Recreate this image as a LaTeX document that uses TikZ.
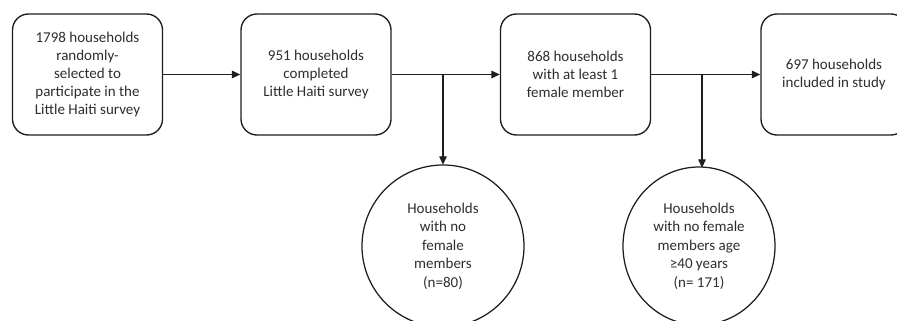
\documentclass[tikz,border=0pt]{standalone}
\usepackage{fontspec}
\setmainfont{Carlito}
\usetikzlibrary{arrows.meta}
\definecolor{linec}{HTML}{1E1E1E}
\definecolor{textc}{HTML}{2E2E2E}
\tikzset{
  x=1pt,y=-1pt,
  box/.style={draw=linec, line width=1.35pt, rounded corners=16pt, minimum width=150pt, minimum height=121pt, align=center, text=textc, font=\fontsize{15}{18}\selectfont, inner sep=0pt},
  conn/.style={draw=linec, line width=1.35pt, -{Triangle[length=8.5pt,width=7.5pt]}},
  circtext/.style={align=center, text=textc, font=\fontsize{15}{18.5}\selectfont, inner sep=0pt}
}
\begin{document}
\begin{tikzpicture}
\useasboundingbox (0,0) rectangle (897,321);
\clip (0,0) rectangle (897,321);
\fill[white] (0,0) rectangle (897,321);
\node[box] (b1) at (87.5,74.5) {1798 households\\randomly-\\selected to\\participate in the\\Little Haiti survey};
\node[box] (b2) at (316,74.5) {951 households\\completed\\Little Haiti survey};
\node[box] (b3) at (575.5,74.5) {868 households\\with at least 1\\female member};
\node[box, minimum width=146pt] (b4) at (834,74.5) {697 households\\included in study};
\draw[line width=1.25pt, draw=linec] (443,246) ellipse (81pt and 81pt);
\node[circtext, minimum size=162pt] (c1) at (443,246) {Households\\with no\\female\\members\\(n=80)};
\draw[line width=1.25pt, draw=linec] (699,246) ellipse (76pt and 79pt);
\node[circtext, minimum width=152pt, minimum height=158pt] (c2) at (699,246) {Households\\with no female\\members age\\≥40 years\\(n= 171)};
\coordinate (j1) at (443,74.5);
\coordinate (j2) at (702,74.5);
\draw[conn] (b1.east) -- (b2.west);
\draw[conn] (b2.east) -- (b3.west);
\draw[conn] (b3.east) -- (b4.west);
\draw[conn] (j1) -- (c1.north);
\draw[conn] (j2) -- ([yshift=-1pt]j2 |- c2.north);
\end{tikzpicture}
\end{document}
